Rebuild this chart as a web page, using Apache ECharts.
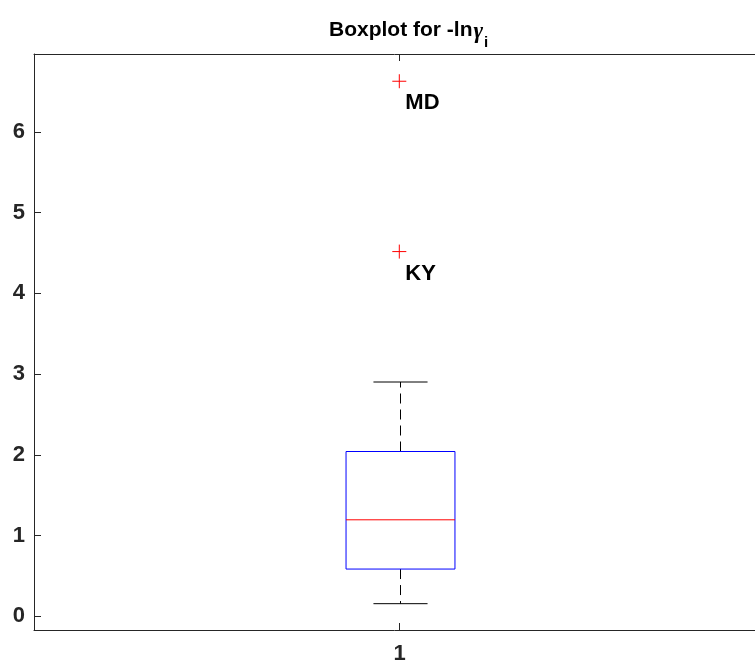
<!DOCTYPE html>
<html>
<head>
<meta charset="utf-8">
<script src="https://cdn.jsdelivr.net/npm/echarts@6/dist/echarts.min.js"></script>
<style>
  html, body { margin: 0; padding: 0; background: #fff; overflow: hidden; }
  #chart { width: 755px; height: 665px; }
</style>
</head>
<body>
<div id="chart"></div>
<script>
// box statistics for the single group (group position 1)
const groups = [1]
const lowerWhisker = [0.156]
const q1 = [0.585]
const median = [1.195]
const q3 = [2.041]
const upperWhisker = [2.902]

// outliers
const outlierValues = [6.63, 4.52]
const outlierLabels = ['MD', 'KY']

// x range 0.5..1.5, the right part falls outside the picture
const xMin = 0.5
const xMax = 1.4863
const yMin = -0.17
const yMax = 6.965

const axisColor = '#262626'
const labelFont = 'Liberation Sans, Arial, Helvetica, sans-serif'

const boxData = groups.map((g, i) => [g, lowerWhisker[i], q1[i], median[i], q3[i], upperWhisker[i]])
const outlierData = outlierValues.map(v => [groups[0], v])

const chart = echarts.init(document.getElementById('chart'))

const renderBox = (params, api) => {
  const x = api.value(0)
  const unit = api.size([1, 0])[0]
  const halfBox = unit * 0.149 / 2
  const halfCap = unit * 0.074 / 2
  const pLow = api.coord([x, api.value(1)])
  const pQ1 = api.coord([x, api.value(2)])
  const pMed = api.coord([x, api.value(3)])
  const pQ3 = api.coord([x, api.value(4)])
  const pHigh = api.coord([x, api.value(5)])
  const cx = Math.round(pMed[0]) + 0.5
  const dash = { stroke: '#000', lineWidth: 1, lineDash: [10, 6] }
  const solid = { stroke: '#000', lineWidth: 1 }
  return {
    type: 'group',
    children: [
      { type: 'line', shape: { x1: cx, y1: pQ3[1], x2: cx, y2: pHigh[1] }, style: dash },
      { type: 'line', shape: { x1: cx, y1: pQ1[1], x2: cx, y2: pLow[1] }, style: dash },
      { type: 'line', shape: { x1: cx - halfCap, y1: pHigh[1], x2: cx + halfCap, y2: pHigh[1] }, style: solid },
      { type: 'line', shape: { x1: cx - halfCap, y1: pLow[1], x2: cx + halfCap, y2: pLow[1] }, style: solid },
      {
        type: 'rect',
        shape: { x: cx - halfBox, y: pQ3[1], width: halfBox * 2, height: pQ1[1] - pQ3[1] },
        style: { fill: 'none', stroke: '#0000FF', lineWidth: 1 }
      },
      { type: 'line', shape: { x1: cx - halfBox, y1: pMed[1], x2: cx + halfBox, y2: pMed[1] }, style: { stroke: '#FF0000', lineWidth: 1 } }
    ]
  }
}

// red "+" marker with its state label below-right
const renderOutlier = (params, api) => {
  const p = api.coord([api.value(0), api.value(1)])
  const cx = p[0] - 0.2
  const cy = p[1] + 0.2
  const r = 7
  const red = { stroke: '#FF0000', lineWidth: 1 }
  return {
    type: 'group',
    children: [
      { type: 'line', shape: { x1: cx - r, y1: cy, x2: cx + r, y2: cy }, style: red },
      { type: 'line', shape: { x1: cx, y1: cy - r, x2: cx, y2: cy + r }, style: red },
      {
        type: 'text',
        x: cx + 6,
        y: cy + 22,
        style: {
          text: outlierLabels[params.dataIndex],
          fill: '#000',
          font: 'bold 22px ' + labelFont,
          align: 'left',
          verticalAlign: 'middle'
        }
      }
    ]
  }
}

const xAxisBase = {
  type: 'value',
  min: xMin,
  max: xMax,
  axisLine: { onZero: false, lineStyle: { color: axisColor, width: 1 } },
  axisTick: { inside: true, length: 7, customValues: groups, lineStyle: { color: axisColor } },
  splitLine: { show: false }
}

const option = {
  animation: false,
  backgroundColor: '#ffffff',
  title: {
    left: 324,
    top: 15,
    text: '{a|Boxplot for -ln}{g|γ}{s|i}',
    textStyle: {
      rich: {
        a: { fontFamily: labelFont, fontWeight: 'bold', fontSize: 21, color: '#000', lineHeight: 30, verticalAlign: 'top' },
        g: { fontFamily: 'Liberation Serif, serif', fontStyle: 'italic', fontSize: 23, color: '#000', lineHeight: 30, verticalAlign: 'top', padding: [1, 0, 0, 1] },
        s: { fontFamily: labelFont, fontWeight: 'bold', fontSize: 15, color: '#000', lineHeight: 30, verticalAlign: 'bottom', padding: [0, 0, 0, 1] }
      }
    }
  },
  grid: { left: 34, top: 54, right: 0, bottom: 34 },
  xAxis: [
    Object.assign({}, xAxisBase, {
      position: 'bottom',
      axisLabel: {
        customValues: groups,
        formatter: v => String(v),
        color: axisColor, fontFamily: labelFont, fontWeight: 'bold', fontSize: 22, margin: 13
      }
    }),
    Object.assign({}, xAxisBase, {
      position: 'top',
      axisLabel: { show: false }
    })
  ],
  yAxis: {
    type: 'value',
    min: yMin,
    max: yMax,
    splitNumber: 7,
    axisLine: { show: true, onZero: false, lineStyle: { color: axisColor, width: 1 } },
    axisTick: { show: true, inside: true, length: 7, lineStyle: { color: axisColor } },
    axisLabel: {
      color: axisColor,
      fontFamily: labelFont,
      fontWeight: 'bold',
      fontSize: 22,
      margin: 9,
      showMinLabel: false,
      showMaxLabel: false
    },
    splitLine: { show: false }
  },
  series: [
    {
      type: 'custom',
      xAxisIndex: 0,
      renderItem: renderBox,
      encode: { x: 0, y: [1, 2, 3, 4, 5] },
      data: boxData,
      z: 2
    },
    {
      type: 'custom',
      xAxisIndex: 0,
      renderItem: renderOutlier,
      encode: { x: 0, y: 1 },
      data: outlierData,
      z: 10
    }
  ]
}

chart.setOption(option)
window.addEventListener('resize', () => chart.resize())
</script>
</body>
</html>
